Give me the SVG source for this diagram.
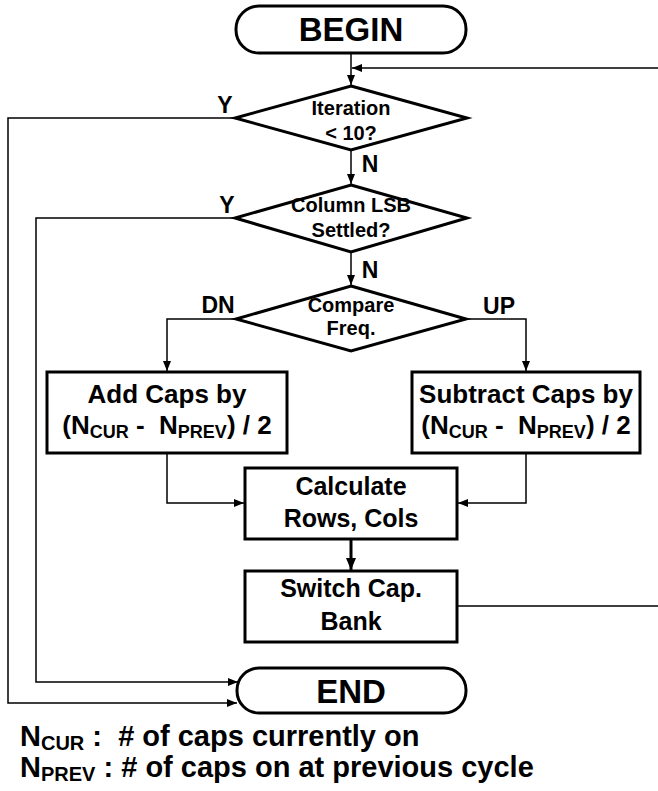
<svg xmlns="http://www.w3.org/2000/svg" width="658" height="791" viewBox="0 0 658 791">
<style>
text{font-family:"Liberation Sans",Arial,sans-serif;font-weight:bold;fill:#000}
.shape{fill:#fff;stroke:#000;stroke-width:3}
.c{fill:none;stroke:#000;stroke-width:1.5}
.ct{fill:none;stroke:#000;stroke-width:3}
.t20{font-size:20px;text-anchor:middle}
.t25{font-size:25px;text-anchor:middle}
.t26{font-size:26px;text-anchor:middle}
.t33{font-size:33px;text-anchor:middle}
.lbl{font-size:23px;text-anchor:middle}
.note{font-size:29px}
</style>
<defs>
<marker id="ah" markerUnits="userSpaceOnUse" markerWidth="10" markerHeight="8" refX="10" refY="4" orient="auto">
<path d="M0,0 L10,4 L0,8 z" fill="#000"/>
</marker>
<marker id="ahb" markerUnits="userSpaceOnUse" markerWidth="12" markerHeight="10" refX="12" refY="5" orient="auto">
<path d="M0,0 L12,5 L0,10 z" fill="#000"/>
</marker>
</defs>
<g id="connectors">
<line class="c" x1="351" y1="53" x2="351" y2="85" marker-end="url(#ah)"/>
<line class="c" x1="658" y1="68" x2="352" y2="68" marker-end="url(#ah)"/>
<line class="c" x1="351" y1="150" x2="351" y2="184" marker-end="url(#ah)"/>
<line class="c" x1="351" y1="252" x2="351" y2="285" marker-end="url(#ah)"/>
<polyline class="c" points="235,118 8,118 8,703 237,703" marker-end="url(#ah)"/>
<polyline class="c" points="235,218 36,218 36,682 238,682" marker-end="url(#ah)"/>
<polyline class="c" points="236,319 167,319 167,371" marker-end="url(#ah)"/>
<polyline class="c" points="466,319 526,319 526,371" marker-end="url(#ah)"/>
<polyline class="c" points="167,454 167,503 244,503" marker-end="url(#ah)"/>
<polyline class="c" points="526,454 526,503 458,503" marker-end="url(#ah)"/>
<line class="ct" x1="351" y1="540" x2="351" y2="570" marker-end="url(#ahb)"/>
<line class="c" x1="457" y1="606" x2="658" y2="606"/>
</g>
<g id="begin">
<rect class="shape" x="236" y="6" width="230" height="47" rx="23"/>
<text class="t33" x="351" y="41">BEGIN</text>
</g>
<g id="iteration">
<polygon class="shape" points="351,86 467,118 351,150 235,118"/>
<text class="t20" x="351" y="115">Iteration</text>
<text class="t20" x="351" y="140">&lt; 10?</text>
</g>
<g id="lsb">
<polygon class="shape" points="351,185 467,218 351,252 235,218"/>
<text class="t20" x="351" y="212">Column LSB</text>
<text class="t20" x="351" y="237">Settled?</text>
</g>
<g id="compare">
<polygon class="shape" points="351,286 466,319 351,351 236,319"/>
<text class="t20" x="351" y="312">Compare</text>
<text class="t20" x="351" y="335">Freq.</text>
</g>
<g id="labels">
<text class="lbl" x="225" y="113">Y</text>
<text class="lbl" x="227" y="213">Y</text>
<text class="lbl" x="370" y="172">N</text>
<text class="lbl" x="370" y="278">N</text>
<text class="lbl" x="218" y="313">DN</text>
<text class="lbl" x="499" y="314">UP</text>
</g>
<g id="add">
<rect class="shape" x="47" y="372" width="240" height="81"/>
<text class="t26" x="167" y="403">Add Caps by</text>
<text class="t26" x="167" y="434" xml:space="preserve">(N<tspan font-size="18" dy="4">CUR</tspan><tspan dy="-4"> -  N</tspan><tspan font-size="18" dy="4">PREV</tspan><tspan dy="-4">) / 2</tspan></text>
</g>
<g id="subtract">
<rect class="shape" x="412" y="372" width="228" height="81"/>
<text class="t26" x="526" y="403">Subtract Caps by</text>
<text class="t26" x="526" y="434" xml:space="preserve">(N<tspan font-size="18" dy="4">CUR</tspan><tspan dy="-4"> -  N</tspan><tspan font-size="18" dy="4">PREV</tspan><tspan dy="-4">) / 2</tspan></text>
</g>
<g id="calculate">
<rect class="shape" x="245" y="468" width="212" height="71"/>
<text class="t25" x="351" y="495">Calculate</text>
<text class="t25" x="351" y="527">Rows, Cols</text>
</g>
<g id="switch">
<rect class="shape" x="245" y="571" width="212" height="71"/>
<text class="t25" x="351" y="597">Switch Cap.</text>
<text class="t25" x="351" y="630">Bank</text>
</g>
<g id="end">
<rect class="shape" x="237" y="668" width="229" height="45" rx="22"/>
<text class="t33" x="351" y="703">END</text>
</g>
<g id="notes">
<text class="note" x="20" y="746" xml:space="preserve">N<tspan font-size="20" dy="4">CUR</tspan><tspan dy="-4"> :  # of caps currently on</tspan></text>
<text class="note" x="20" y="777" xml:space="preserve">N<tspan font-size="20" dy="4">PREV</tspan><tspan dy="-4"> : # of caps on at previous cycle</tspan></text>
</g>
</svg>
